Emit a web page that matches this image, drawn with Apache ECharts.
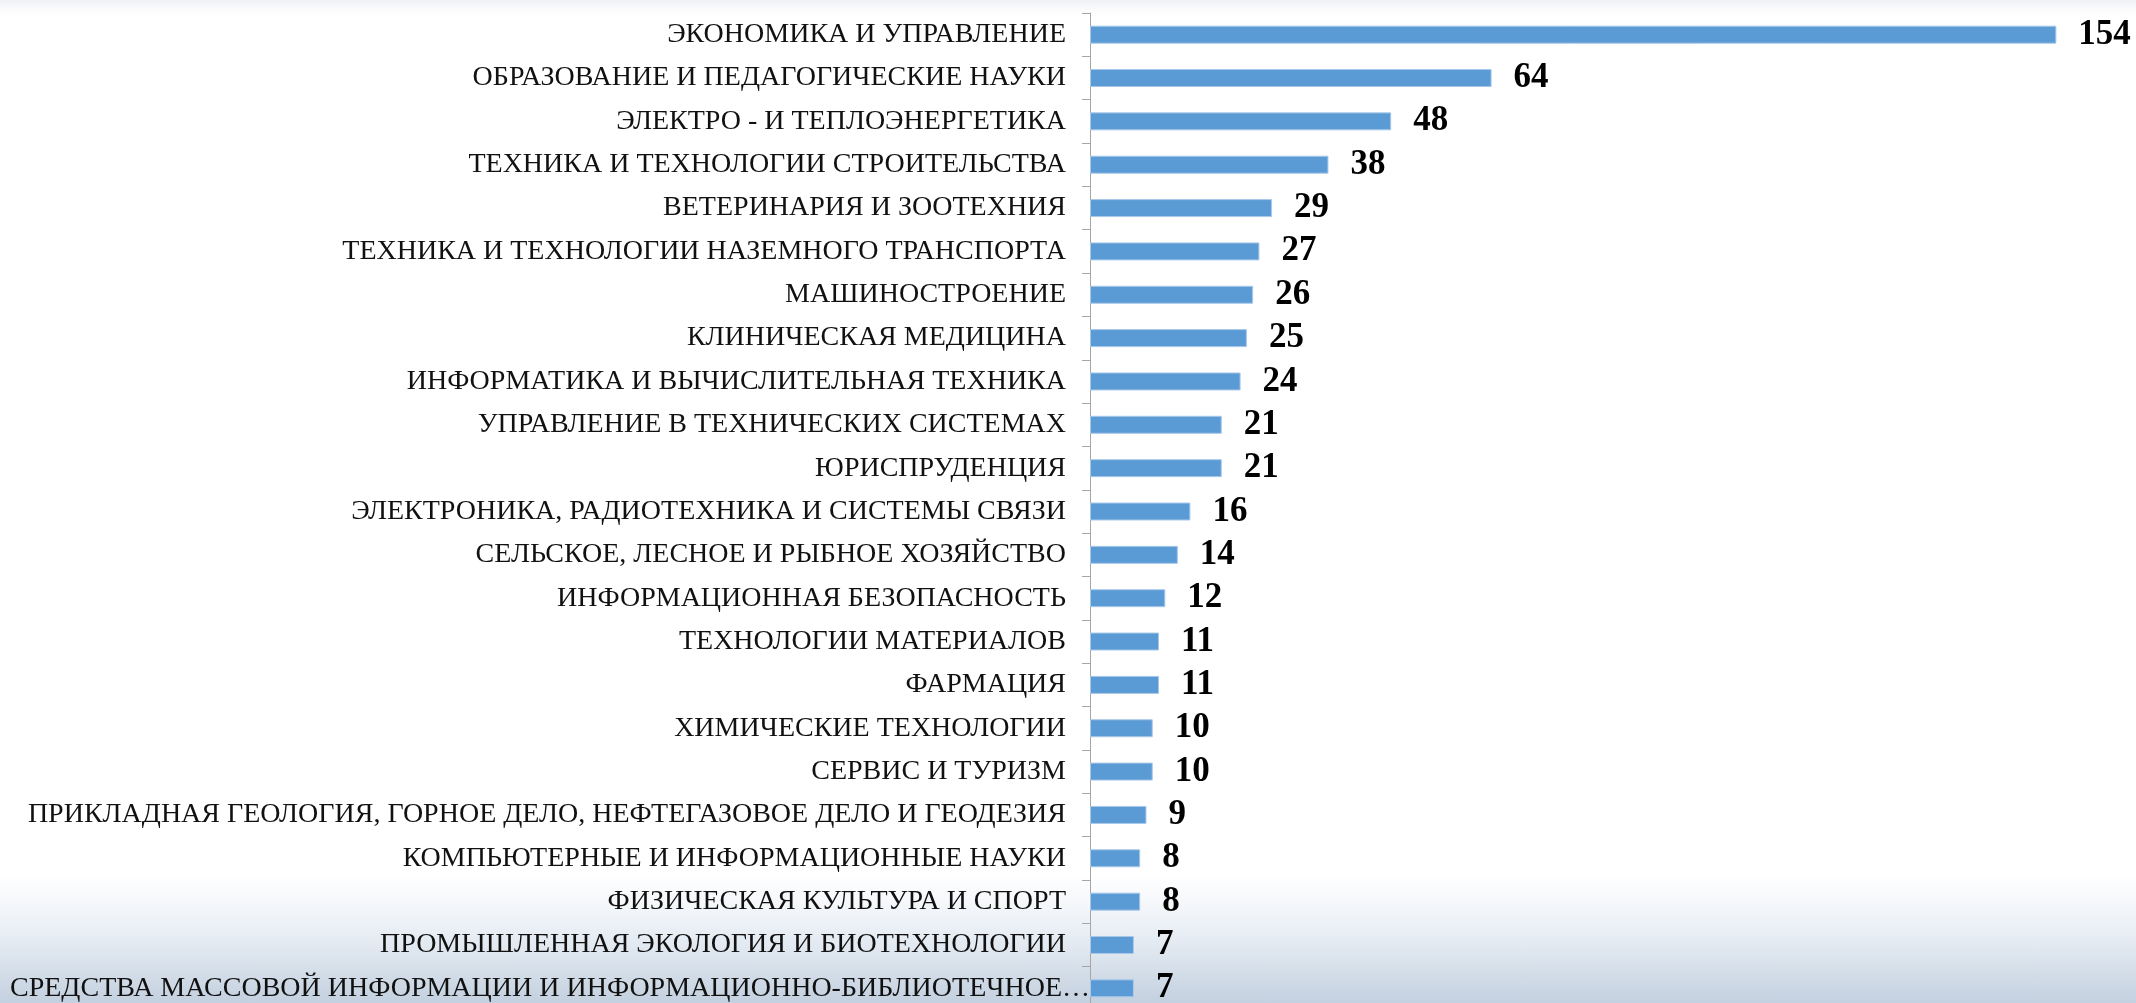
<!DOCTYPE html>
<html>
<head>
<meta charset="utf-8">
<script src="https://cdn.jsdelivr.net/npm/echarts@6/dist/echarts.min.js"></script>
<style>
    html, body {
        margin: 0;
        padding: 0;
        width: 2136px;
        height: 1003px;
        overflow: hidden;
    }
    body {
        background: linear-gradient(to bottom, #eff1f4 0px, #fbfbfc 10px, #ffffff 18px, #ffffff 875px,
            #f6f8fb 900px, #eaeff5 930px, #d8e1eb 965px, #c3d0df 1003px);
    }
    #main {
        width: 2136px;
        height: 1003px;
    }
</style>
</head>
<body>
<div id="main"></div>
<script>
var categories = [
    'ЭКОНОМИКА И УПРАВЛЕНИЕ',
    'ОБРАЗОВАНИЕ И ПЕДАГОГИЧЕСКИЕ НАУКИ',
    'ЭЛЕКТРО - И ТЕПЛОЭНЕРГЕТИКА',
    'ТЕХНИКА И ТЕХНОЛОГИИ СТРОИТЕЛЬСТВА',
    'ВЕТЕРИНАРИЯ И ЗООТЕХНИЯ',
    'ТЕХНИКА И ТЕХНОЛОГИИ НАЗЕМНОГО ТРАНСПОРТА',
    'МАШИНОСТРОЕНИЕ',
    'КЛИНИЧЕСКАЯ МЕДИЦИНА',
    'ИНФОРМАТИКА И ВЫЧИСЛИТЕЛЬНАЯ ТЕХНИКА',
    'УПРАВЛЕНИЕ В ТЕХНИЧЕСКИХ СИСТЕМАХ',
    'ЮРИСПРУДЕНЦИЯ',
    'ЭЛЕКТРОНИКА, РАДИОТЕХНИКА И СИСТЕМЫ СВЯЗИ',
    'СЕЛЬСКОЕ, ЛЕСНОЕ И РЫБНОЕ ХОЗЯЙСТВО',
    'ИНФОРМАЦИОННАЯ БЕЗОПАСНОСТЬ',
    'ТЕХНОЛОГИИ МАТЕРИАЛОВ',
    'ФАРМАЦИЯ',
    'ХИМИЧЕСКИЕ ТЕХНОЛОГИИ',
    'СЕРВИС И ТУРИЗМ',
    'ПРИКЛАДНАЯ ГЕОЛОГИЯ, ГОРНОЕ ДЕЛО, НЕФТЕГАЗОВОЕ ДЕЛО И ГЕОДЕЗИЯ',
    'КОМПЬЮТЕРНЫЕ И ИНФОРМАЦИОННЫЕ НАУКИ',
    'ФИЗИЧЕСКАЯ КУЛЬТУРА И СПОРТ',
    'ПРОМЫШЛЕННАЯ ЭКОЛОГИЯ И БИОТЕХНОЛОГИИ',
    'СРЕДСТВА МАССОВОЙ ИНФОРМАЦИИ И ИНФОРМАЦИОННО-БИБЛИОТЕЧНОЕ…'
];
var values = [154, 64, 48, 38, 29, 27, 26, 25, 24, 21, 21, 16, 14, 12, 11, 11, 10, 10, 9, 8, 8, 7, 7];

var serif = "'Liberation Serif', 'Times New Roman', serif";

// последняя подпись в оригинале обрезана и доходит до самой оси
var yData = categories.map(function(name, i) {
    if (i === categories.length - 1) {
        return { value: name, textStyle: { padding: [0, -24, 0, 0] } };
    }
    return name;
});

var myChart = echarts.init(document.getElementById('main'));
var option = {
    backgroundColor: 'transparent',
    animation: false,
    grid: {
        left: 1090,
        right: 42,
        top: 13,
        height: 997,
        containLabel: false,
        outerBoundsMode: 'none'
    },
    xAxis: {
        type: 'value',
        min: 0,
        max: 160,
        show: false,
        splitLine: { show: false }
    },
    yAxis: {
        type: 'category',
        inverse: true,
        data: yData,
        axisLine: {
            show: true,
            lineStyle: { color: '#a6a6a6', width: 1 }
        },
        axisTick: {
            show: true,
            length: 8,
            lineStyle: { color: '#a6a6a6' }
        },
        axisLabel: {
            margin: 24,
            color: '#111',
            fontFamily: serif,
            fontSize: 28
        }
    },
    series: [{
        type: 'bar',
        data: values,
        barWidth: 18,
        itemStyle: {
            color: '#5b9bd5',
            borderColor: '#a9c9ea',
            borderWidth: 1
        },
        label: {
            show: true,
            position: 'right',
            distance: 22,
            color: '#000',
            fontFamily: serif,
            fontWeight: 'bold',
            fontSize: 35
        }
    }]
};
// рисуем
myChart.setOption(option);
</script>
</body>
</html>
